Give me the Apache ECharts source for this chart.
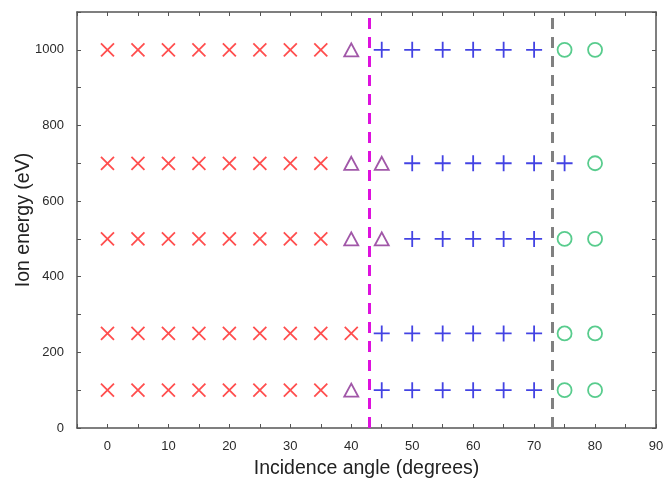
<!DOCTYPE html>
<html>
<head>
    <meta charset="utf-8">
    <title>Ion energy vs incidence angle</title>
    <script src="https://cdn.jsdelivr.net/npm/echarts@6/dist/echarts.min.js"></script>
</head>
<body style="margin:0">
    <div id="main" style="width: 666px;height:479px;"></div>
    <script type="text/javascript">
        // ion energies (eV), one row per energy
        var energies = [100, 250, 500, 700, 1000];
        // incidence angles for each symbol type, per energy row (same order as energies)
        var crossAngles = [
            [0, 5, 10, 15, 20, 25, 30, 35],
            [0, 5, 10, 15, 20, 25, 30, 35, 40],
            [0, 5, 10, 15, 20, 25, 30, 35],
            [0, 5, 10, 15, 20, 25, 30, 35],
            [0, 5, 10, 15, 20, 25, 30, 35]
        ];
        var triangleAngles = [[40], [], [40, 45], [40, 45], [40]];
        var plusAngles = [
            [45, 50, 55, 60, 65, 70],
            [45, 50, 55, 60, 65, 70],
            [50, 55, 60, 65, 70],
            [50, 55, 60, 65, 70, 75],
            [45, 50, 55, 60, 65, 70]
        ];
        var circleAngles = [[75, 80], [75, 80], [75, 80], [80], [75, 80]];
        // boundary angles (dashed lines)
        var boundaryAngles = [43, 73];
        var xTickLabels = [0, 10, 20, 30, 40, 50, 60, 70, 80, 90];
        var yTickLabels = [0, 200, 400, 600, 800, 1000];

        function toPoints(rows) {
            var out = [];
            rows.forEach(function (row, i) {
                row.forEach(function (a) { out.push([a, energies[i]]); });
            });
            return out;
        }

        var axisColor = '#555';
        var myChart = echarts.init(document.getElementById('main'));
        var option = {
            animation: false,
            backgroundColor: '#fff',
            grid: { left: 77, right: 10, top: 12, bottom: 51, outerBoundsMode: 'none', containLabel: false },
            xAxis: [{
                type: 'value', min: -5, max: 90, interval: 5,
                name: 'Incidence angle (degrees)', nameLocation: 'middle', nameGap: 31, nameMoveOverlap: false,
                nameTextStyle: { fontFamily: 'Liberation Sans', fontSize: 19.5, color: '#222' },
                axisLine: { onZero: false, lineStyle: { color: axisColor, width: 1.5 } },
                axisTick: { inside: true, length: 4, lineStyle: { color: axisColor } },
                splitLine: { show: false },
                axisLabel: {
                    margin: 12, fontFamily: 'Liberation Sans', fontSize: 13, color: '#2a2a2a',
                    formatter: function (v) { return xTickLabels.indexOf(v) >= 0 ? String(v) : ''; }
                }
            }, {
                type: 'value', min: -5, max: 90, interval: 5, position: 'top',
                axisLine: { show: true, onZero: false, lineStyle: { color: axisColor, width: 1.5 } },
                axisTick: { inside: true, length: 4, lineStyle: { color: axisColor } },
                axisLabel: { show: false }, splitLine: { show: false }
            }],
            yAxis: [{
                type: 'value', min: 0, max: 1100, interval: 100,
                name: 'Ion energy (eV)', nameLocation: 'middle', nameGap: 43, nameMoveOverlap: false,
                nameTextStyle: { fontFamily: 'Liberation Sans', fontSize: 19.5, color: '#222' },
                axisLine: { show: true, onZero: false, lineStyle: { color: axisColor, width: 1.5 } },
                axisTick: { show: true, inside: true, length: 4, lineStyle: { color: axisColor } },
                splitLine: { show: false },
                axisLabel: {
                    margin: 13, fontFamily: 'Liberation Sans', fontSize: 13, color: '#2a2a2a',
                    formatter: function (v) { return yTickLabels.indexOf(v) >= 0 ? String(v) : ''; }
                }
            }, {
                type: 'value', min: 0, max: 1100, interval: 100, position: 'right',
                axisLine: { show: true, onZero: false, lineStyle: { color: axisColor, width: 1.5 } },
                axisTick: { show: true, inside: true, length: 4, lineStyle: { color: axisColor } },
                axisLabel: { show: false }, splitLine: { show: false }
            }],
            series: [{
                type: 'scatter', data: toPoints(crossAngles),
                symbol: 'path://M0,0L10,10M10,0L0,10', symbolSize: 13,
                itemStyle: { color: 'none', borderColor: '#ff2222', borderWidth: 1.8 }
            }, {
                type: 'scatter', data: toPoints(triangleAngles),
                symbol: 'triangle', symbolSize: [14, 13],
                itemStyle: { color: '#fff', borderColor: '#8a2d92', borderWidth: 1.8 }
            }, {
                type: 'scatter', data: toPoints(plusAngles),
                symbol: 'path://M5,0L5,10M0,5L10,5', symbolSize: 16,
                itemStyle: { color: 'none', borderColor: '#1414dc', borderWidth: 1.8 }
            }, {
                type: 'scatter', data: toPoints(circleAngles),
                symbol: 'circle', symbolSize: 14,
                itemStyle: { color: '#fff', borderColor: '#2ebf70', borderWidth: 1.8 }
            }, {
                type: 'line', data: [], silent: true,
                markLine: {
                    symbol: 'none', silent: true, label: { show: false },
                    data: [
                        { xAxis: boundaryAngles[0], lineStyle: { color: '#dd11dd', width: 3, type: [11, 8] } },
                        { xAxis: boundaryAngles[1], lineStyle: { color: '#808080', width: 3, type: [11, 8] } }
                    ]
                }
            }]
        };
        myChart.setOption(option);
    </script>
</body>
</html>
